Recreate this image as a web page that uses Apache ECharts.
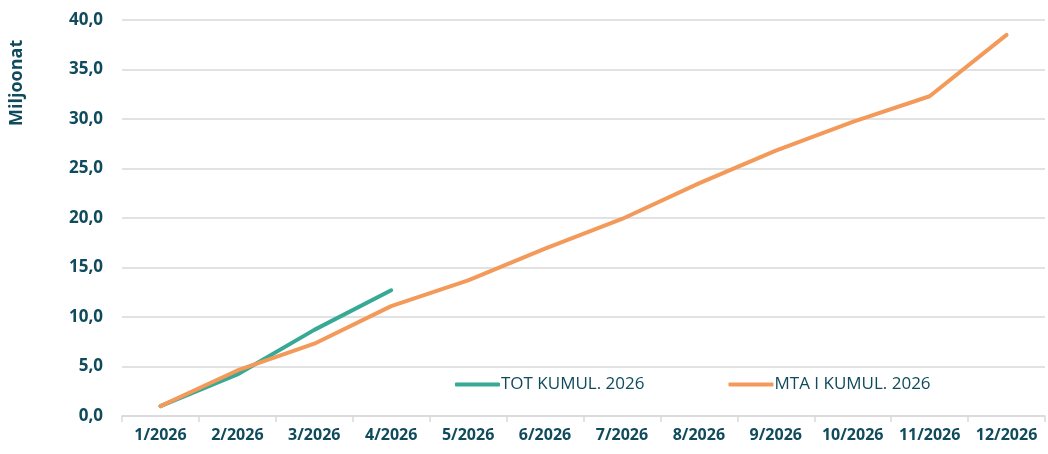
<!DOCTYPE html>
<html>
<head>
<meta charset="utf-8">
<script src="https://cdn.jsdelivr.net/npm/echarts@6/dist/echarts.min.js"></script>
<style>
  html, body { margin: 0; padding: 0; background: #fff; }
  #chart { width: 1048px; height: 454px; }
</style>
</head>
<body>
<div id="chart"></div>
<script>
// kuukaudet
var months = ['1/2026', '2/2026', '3/2026', '4/2026', '5/2026', '6/2026',
              '7/2026', '8/2026', '9/2026', '10/2026', '11/2026', '12/2026'];
// toteuma kumulatiivinen (vain alkuvuosi)
var totKumul = [1.0, 4.2, 8.7, 12.7];
// MTA kumulatiivinen
var mtaKumul = [1.0, 4.6, 7.3, 11.1, 13.7, 16.9, 19.9, 23.5, 26.8, 29.7, 32.3, 38.5];
var seriesNames = ['TOT KUMUL. 2026', 'MTA I KUMUL. 2026'];

var textColor = '#0f4b5c';
var fontName = 'Open Sans';

var chart = echarts.init(document.getElementById('chart'));

var option = {
    animation: false,
    grid: { left: 122, right: 3, top: 20, bottom: 38 },
    legend: {
        left: 450,
        top: 371,
        itemWidth: 45,
        itemHeight: 4,
        itemGap: 84,
        icon: 'roundRect',
        textStyle: { color: textColor, fontSize: 17, fontFamily: fontName, padding: [0, 0, 0, -4] },
        data: seriesNames
    },
    graphic: [{
        type: 'text',
        x: 8,
        y: 126,
        rotation: Math.PI / 2,
        style: {
            text: 'Miljoonat',
            fill: textColor,
            font: 'bold 18px "Open Sans"'
        }
    }],
    xAxis: {
        type: 'category',
        data: months,
        boundaryGap: true,
        axisLine: { lineStyle: { color: '#d9d9d9', width: 1.5 } },
        axisTick: { show: true, length: 6, lineStyle: { color: '#d9d9d9', width: 1.5 } },
        axisLabel: { color: textColor, fontWeight: 'bold', fontSize: 16, fontFamily: fontName, margin: 11, interval: 0 }
    },
    yAxis: {
        type: 'value',
        min: 0,
        max: 40,
        interval: 5,
        axisLine: { show: false },
        axisTick: { show: false },
        splitLine: { lineStyle: { color: '#d9d9d9', width: 1.5 } },
        axisLabel: {
            color: textColor,
            fontWeight: 'bold',
            fontSize: 17,
            fontFamily: fontName,
            margin: 19,
            formatter: function (v) { return v.toFixed(1).replace('.', ','); }
        }
    },
    series: [
        {
            name: seriesNames[0],
            type: 'line',
            data: totKumul,
            symbol: 'none',
            lineStyle: { color: '#37a994', width: 4, cap: 'round' },
            itemStyle: { color: '#37a994' },
            z: 3
        },
        {
            name: seriesNames[1],
            type: 'line',
            data: mtaKumul,
            symbol: 'none',
            lineStyle: { color: '#f39a5b', width: 4, cap: 'round' },
            itemStyle: { color: '#f39a5b' },
            z: 4
        }
    ]
};
chart.setOption(option);
</script>
</body>
</html>
